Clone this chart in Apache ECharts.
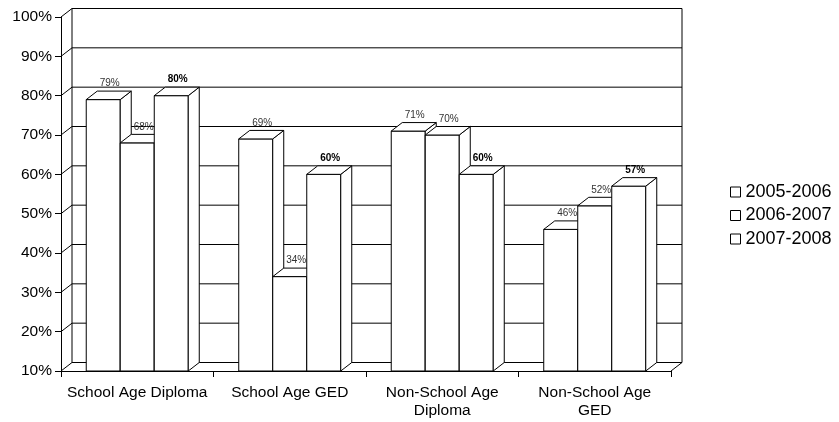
<!DOCTYPE html>
<html>
<head>
<meta charset="utf-8">
<script src="https://cdn.jsdelivr.net/npm/echarts@6/dist/echarts.min.js"></script>
<style>
  html, body { margin: 0; padding: 0; background: #fff; }
  #chart { width: 839px; height: 422px; }
</style>
</head>
<body>
<div id="chart"></div>
<script>
// Categories and yearly completion rates (percent)
const categories = ['School Age Diploma', 'School Age GED', 'Non-School Age\nDiploma', 'Non-School Age\nGED'];
const seriesNames = ['2005-2006', '2006-2007', '2007-2008'];
const rate0506 = [79, 69, 71, 46];
const rate0607 = [68, 34, 70, 52];
const rate0708 = [80, 60, 60, 57];
const yTicks = [10, 20, 30, 40, 50, 60, 70, 80, 90, 100];

const FONT = '"Liberation Sans", Arial, Helvetica, sans-serif';
const DX = 11;     // depth offset of the 3D box, px
const DY = -8.5;
const BAR_FRAC = 0.223; // bar width as a share of one category band

const LINE = { stroke: '#000', lineWidth: 1 };
const FACE = { fill: '#fff', stroke: '#000', lineWidth: 1 };

// Back wall, side wall and floor of the 3D plot area
function renderFrame(params, api) {
  const cs = params.coordSys;
  const x0 = cs.x, x1 = cs.x + cs.width;
  const yMin = yTicks[0], yMax = yTicks[yTicks.length - 1];
  const top = api.coord([0, yMax])[1];
  const bottom = api.coord([0, yMin])[1];
  const children = [];
  yTicks.forEach(function (t) {
    const y = api.coord([0, t])[1];
    children.push({ type: 'line', shape: { x1: x0, y1: y, x2: x0 + DX, y2: y + DY }, style: LINE });
    children.push({ type: 'line', shape: { x1: x0 + DX, y1: y + DY, x2: x1 + DX, y2: y + DY }, style: LINE });
  });
  children.push({ type: 'line', shape: { x1: x0 + DX, y1: top + DY, x2: x0 + DX, y2: bottom + DY }, style: LINE });
  children.push({ type: 'line', shape: { x1: x1 + DX, y1: top + DY, x2: x1 + DX, y2: bottom + DY }, style: LINE });
  children.push({ type: 'line', shape: { x1: x1, y1: bottom, x2: x1 + DX, y2: bottom + DY }, style: LINE });
  return { type: 'group', children: children };
}

// One 3D bar (front, side and top faces) plus its value label
function makeBarRenderer(slot, bold) {
  return function (params, api) {
    const idx = api.value(0);
    const v = api.value(1);
    const p = api.coord([idx, v]);
    const base = api.coord([idx, yTicks[0]]);
    const band = api.size([1, 0])[0];
    const bw = band * BAR_FRAC;
    const left = p[0] - 1.5 * bw + slot * bw;
    const right = left + bw;
    const yt = p[1], yb = base[1];
    return {
      type: 'group',
      children: [
        { type: 'rect', shape: { x: left, y: yt, width: bw, height: yb - yt }, style: FACE },
        { type: 'polygon', shape: { points: [[right, yt], [right + DX, yt + DY], [right + DX, yb + DY], [right, yb]] }, style: FACE },
        { type: 'polygon', shape: { points: [[left, yt], [left + DX, yt + DY], [right + DX, yt + DY], [right, yt]] }, style: FACE },
        {
          type: 'text',
          style: {
            x: left + bw / 2 + DX / 2 + 1,
            y: yt - 16,
            text: v + '%',
            align: 'center',
            verticalAlign: 'middle',
            font: (bold ? 'bold ' : '') + '10px ' + FONT,
            fill: bold ? '#000' : '#333'
          }
        }
      ]
    };
  };
}

function toItems(values) {
  return values.map(function (v, i) { return [i, v]; });
}

const valueSets = [rate0506, rate0607, rate0708];

const barSeries = seriesNames.map(function (name, j) {
  return {
    name: name,
    type: 'custom',
    z: 3,
    clip: false,
    itemStyle: { color: '#fff', borderColor: '#000', borderWidth: 1 },
    renderItem: makeBarRenderer(j, j === 2),
    encode: { x: 0, y: 1 },
    data: toItems(valueSets[j])
  };
});

const chart = echarts.init(document.getElementById('chart'), null, { renderer: 'canvas' });
chart.setOption({
  backgroundColor: '#fff',
  animation: false,
  textStyle: { fontFamily: FONT },
  grid: { left: 61, top: 17, width: 610, height: 354 },
  legend: {
    orient: 'vertical',
    left: 725,
    top: 178,
    itemWidth: 10,
    itemHeight: 10,
    itemGap: 5.5,
    icon: 'rect',
    data: seriesNames.map(function (n) {
      return { name: n, itemStyle: { color: '#fff', borderColor: '#000', borderWidth: 1 } };
    }),
    textStyle: { fontSize: 18, color: '#000', fontFamily: FONT }
  },
  xAxis: {
    type: 'category',
    data: categories,
    axisLine: { lineStyle: { color: '#000', width: 1 } },
    axisTick: { show: true, length: 6, interval: 0, lineStyle: { color: '#000' } },
    axisLabel: { interval: 0, margin: 12, fontSize: 15.5, lineHeight: 18.5, color: '#000', fontFamily: FONT },
    splitLine: { show: false }
  },
  yAxis: {
    type: 'value',
    min: 10,
    max: 100,
    interval: 10,
    axisLine: { show: true, lineStyle: { color: '#000', width: 1 } },
    axisTick: { show: true, length: 6, lineStyle: { color: '#000' } },
    axisLabel: { formatter: '{value}%', margin: 9, fontSize: 15.5, color: '#000', fontFamily: FONT },
    splitLine: { show: false }
  },
  series: barSeries.concat([{
    name: 'frame',
    type: 'custom',
    z: 1,
    clip: false,
    silent: true,
    renderItem: renderFrame,
    encode: { x: 0, y: 1 },
    data: [[0, 10]]
  }])
});
</script>
</body>
</html>
